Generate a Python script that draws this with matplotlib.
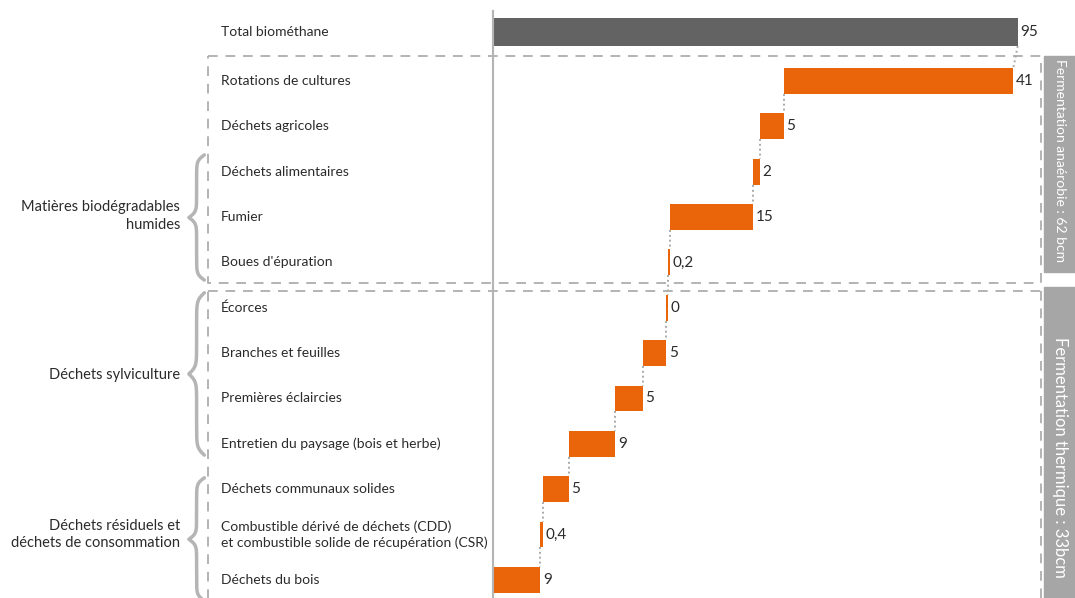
import numpy as np
import matplotlib
matplotlib.use("Agg")
import matplotlib.pyplot as plt
from matplotlib.patches import Rectangle

plt.rcParams['font.family'] = ['Lato', 'DejaVu Sans']

# rows from top to bottom
categories = ["Total biométhane", "Rotations de cultures", "Déchets agricoles",
              "Déchets alimentaires", "Fumier", "Boues d'épuration", "Écorces",
              "Branches et feuilles", "Premières éclaircies",
              "Entretien du paysage (bois et herbe)", "Déchets communaux solides",
              "Combustible dérivé de déchets (CDD)\net combustible solide de récupération (CSR)",
              "Déchets du bois"]
value_labels = ["95", "41", "5", "2", "15", "0,2", "0", "5", "5", "9", "5", "0,4", "9"]
total = 95
# drawn bar widths (rows 1..12)
bar_widths = [41.6, 4.3, 1.3, 15.0, 0.35, 0.3, 4.3, 5.0, 8.4, 4.7, 0.45, 8.5]

groups = ["Matières biodégradables\nhumides", "Déchets sylviculture",
          "Déchets résiduels et\ndéchets de consommation"]
group_rows = [3.98, 7.48, 11.0]
brace_spans = [(2.63, 5.39), (5.67, 9.25), (9.75, 12.46)]
side_labels = ["Fermentation anaérobie : 62 bcm", "Fermentation thermique : 33bcm"]

orange = '#EA650A'
dark = '#636363'
light = '#b4b4b4'
txt = '#2b2b2b'

fig = plt.figure(figsize=(10.75, 5.98), dpi=100)
ax = fig.add_axes([0, 0, 1, 1])
ax.set_xlim(-89.43, 105.38)
ax.set_ylim(12.40, -0.786)
ax.axis('off')

# waterfall lefts, stacked from the bottom
w = np.array(bar_widths)
rights = np.cumsum(w[::-1])[::-1]
lefts = rights - w
rows = np.concatenate([[-0.08], np.arange(1, len(categories))])

ax.barh(rows[0], total, height=0.62, color=dark, zorder=3)
ax.barh(rows[1:], w, left=lefts, height=0.57, color=orange, zorder=3)

ends = np.concatenate([[total], rights])
for r, lab, e in zip(rows, value_labels, ends):
    ax.text(e + 0.5, r, lab, ha='left', va='center', fontsize=11, color=txt)

# dotted connectors
levels_top = np.concatenate([[total], lefts[:-1]])
for i in range(len(categories) - 1):
    h_top = 0.62 if i == 0 else 0.57
    ax.plot([levels_top[i], rights[i]], [rows[i] + h_top / 2, rows[i + 1] - 0.57 / 2],
            color='#aaaaaa', lw=1.4, ls=(0, (1, 1.5)), zorder=2)

# vertical axis line
ax.plot([0, 0], [-0.54, 12.6], color=light, lw=1.5, zorder=4)

# category labels
for r, c in zip(rows, categories):
    ax.text(-49.4, r, c, ha='left', va='center', fontsize=10, color=txt,
            linespacing=1.35)

# group labels and braces
def brace(x_right, x_tip, y0, y1, beta=22):
    s = np.linspace(0, 1, 200)
    g = 1 / (1 + np.exp(-beta * s)) + 1 / (1 + np.exp(-beta * (s - 1))) - 0.5
    ym = (y0 + y1) / 2
    xs = x_right - (x_right - x_tip) * g
    ys = y0 + s * (ym - y0)
    xs = np.concatenate([xs, xs[::-1]])
    ys = np.concatenate([ys, ym + (ym - ys[::-1])])
    ax.plot(xs, ys, color='#b5b5b5', lw=2.5, solid_capstyle='round', zorder=3)

for g, gr, (b0, b1) in zip(groups, group_rows, brace_spans):
    ax.text(-56.8, gr, g, ha='right', va='center', fontsize=10.5, color=txt,
            linespacing=1.3)
    brace(-52.4, -55.2, b0, b1)

# dashed boxes
dash = dict(color='#b3b3b3', lw=1.4, ls=(0, (5, 4)), zorder=1)
bx0, bx1 = -51.7, 99.2
ax.plot([bx0, bx1, bx1, bx0, bx0], [0.438, 0.438, 5.453, 5.453, 0.438], **dash)
ax.plot([bx0, bx0], [12.6, 5.63], **dash)
ax.plot([bx0, bx1], [5.63, 5.63], **dash)
ax.plot([bx1, bx1], [5.63, 12.6], **dash)

# side labels
rect_spans = [(0.45, 5.21), (5.54, 12.6)]
text_rows = [2.76, 9.29]
text_sizes = [10, 12]
for (y0, y1), lab, tr, fs in zip(rect_spans, side_labels, text_rows, text_sizes):
    ax.add_patch(Rectangle((99.8, y0), 10, y1 - y0, color='#a6a6a6', zorder=2))
    ax.text(102.75, tr, lab, rotation=-90, ha='center', va='center',
            fontsize=fs, color='white')

fig.savefig('out.png', dpi=100)
